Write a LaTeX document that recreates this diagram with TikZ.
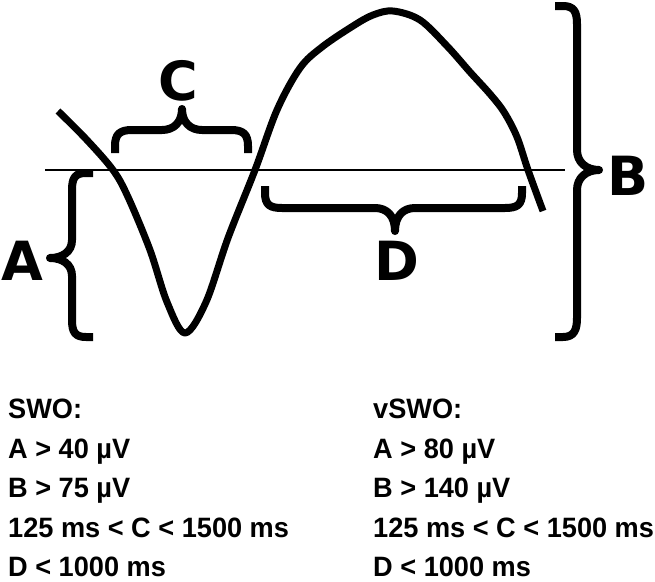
\documentclass[tikz,border=0pt]{standalone}
\usepackage{fontspec}
\newfontfamily\lblfont{DejaVu Sans}
\newfontfamily\txtfont{Liberation Sans}[FakeStretch=0.97]
\begin{document}
\begin{tikzpicture}[x=1pt,y=-1pt,
  wave/.style={line width=7pt,line cap=butt,line join=round},
  bracepath/.style={line width=8pt,line cap=butt,line join=round},
  baseline line/.style={line width=2pt},
  biglbl/.style={inner sep=0pt,anchor=base,font=\lblfont\bfseries\fontsize{54}{54}\selectfont},
  txt/.style={inner sep=0pt,anchor=base west,font=\txtfont\bfseries\fontsize{28}{28}\selectfont}]
\useasboundingbox (0,0) rectangle (655,581);
% zero line
\coordinate (z1) at (45,170);
\coordinate (z2) at (565,170);
\draw[baseline line] (z1) -- (z2);
% wave
\draw[wave] plot[smooth,tension=0.55] coordinates {
 (58,111) (86,139) (113,170) (128,197) (150,250) (167,302) (185,333)
 (206,302) (228,238) (255,170) (277,110) (300,68) (322,47) (353,26)
 (373,15) (393,11) (420,20) (447,46) (470,72) (490,94) (504,112)
 (517,137) (528,170) (543,211)};
% brace A
\draw[bracepath] (93,173) -- (86,173) .. controls (75,173) and (72,178) .. (72,190)
  -- (72,240) .. controls (72,252) and (62,258) .. (50,258)
  .. controls (62,258) and (72,264) .. (72,276) -- (72,320)
  .. controls (72,332) and (75,337) .. (86,337) -- (93,337);
% brace C
\draw[bracepath] (115,153) -- (115,146) .. controls (115,134) and (120,130) .. (132,130)
  -- (162,130) .. controls (174,130) and (182,122) .. (182,109)
  .. controls (182,122) and (190,130) .. (202,130) -- (231,130)
  .. controls (243,130) and (248,134) .. (248,146) -- (248,153);
% brace D
\draw[bracepath] (265,186) -- (265,193) .. controls (265,205) and (270,208) .. (282,208)
  -- (375,208) .. controls (387,208) and (395,216) .. (395,231)
  .. controls (395,216) and (403,208) .. (415,208) -- (505,208)
  .. controls (517,208) and (522,205) .. (522,193) -- (522,186);
% brace B
\draw[bracepath] (555,6) -- (563,6) .. controls (574,6) and (577,12) .. (577,24)
  -- (577,150) .. controls (577,162) and (586,170) .. (599,170)
  .. controls (586,170) and (577,178) .. (577,190) -- (577,318)
  .. controls (577,330) and (574,337) .. (563,337) -- (555,337);
% labels
\node[biglbl] (A) at (22,280) {A};
\node[biglbl] (C) at (178,100) {C};
\node[biglbl] (D) at (397,280) {D};
\node[biglbl] (B) at (628,195) {B};
% text left
\node[txt] (l1) at (8,418) {SWO:};
\node[txt] (l2) at (8,458) {A > 40 µV};
\node[txt] (l3) at (8,497) {B > 75 µV};
\node[txt] (l4) at (8,537) {125 ms < C < 1500 ms};
\node[txt] (l5) at (8,576) {D < 1000 ms};
% text right
\node[txt] (r1) at (373,418) {vSWO:};
\node[txt] (r2) at (373,458) {A > 80 µV};
\node[txt] (r3) at (373,497) {B > 140 µV};
\node[txt] (r4) at (373,537) {125 ms < C < 1500 ms};
\node[txt] (r5) at (373,576) {D < 1000 ms};
\end{tikzpicture}
\end{document}
